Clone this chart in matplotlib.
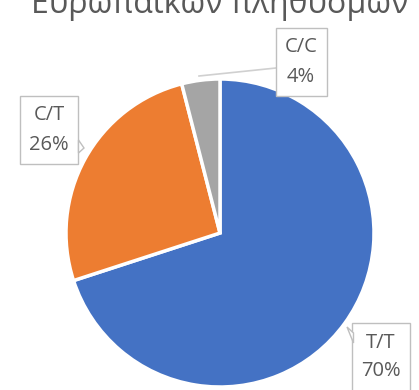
import matplotlib.pyplot as plt
from matplotlib.patches import Polygon

genotypes = ['T/T', 'C/T', 'C/C']
percent = [70, 26, 4]
colors = ['#4472C4', '#ED7D31', '#A5A5A5']

W, H = 419, 390
fig = plt.figure(figsize=(W / 100, H / 100), dpi=100)
ax = fig.add_axes([0, 0, 1, 1])

# pie in pixel coords (y flipped)
cx, cy, r = 220, H - 233, 154
ax.pie(percent, colors=colors, startangle=90, counterclock=False,
       center=(cx, cy), radius=r, frame=True,
       wedgeprops=dict(edgecolor='white', linewidth=2.5))
ax.set_xlim(0, W)
ax.set_ylim(0, H)
ax.set_aspect('equal')
ax.axis('off')

# title, cut off at the top
ax.text(220, H - 13, 'Ευρωπαϊκών πληθυσμών', ha='center', va='baseline',
        fontsize=23, color='#595959', family='Open Sans')

# data labels in callout boxes
labels = [f'{g}\n{p}%' for g, p in zip(genotypes, percent)]
label_pos = [(381, H - 357), (49, H - 130), (301, H - 62)]
box = dict(boxstyle='square,pad=0.45', facecolor='white', edgecolor='#BFBFBF', linewidth=1)
for txt, (x, y) in zip(labels, label_pos):
    ax.text(x, y, txt, ha='center', va='center', fontsize=14.5, color='#595959',
            family='Open Sans', linespacing=1.6, bbox=box, zorder=5)

# leader line for the small slice
ax.plot([199, 276], [H - 76, H - 68], color='#D0D0D0', lw=1.2, zorder=4)
# callout pointers
ax.add_patch(Polygon([[78.5, H - 140], [84, H - 148], [78.5, H - 153]], closed=True,
                     facecolor='white', edgecolor='#BFBFBF', lw=1, zorder=6))
ax.add_patch(Polygon([[353.5, H - 333], [347, H - 327], [353.5, H - 343]], closed=True,
                     facecolor='white', edgecolor='#BFBFBF', lw=1, zorder=6))

fig.savefig('out.png', dpi=100)
